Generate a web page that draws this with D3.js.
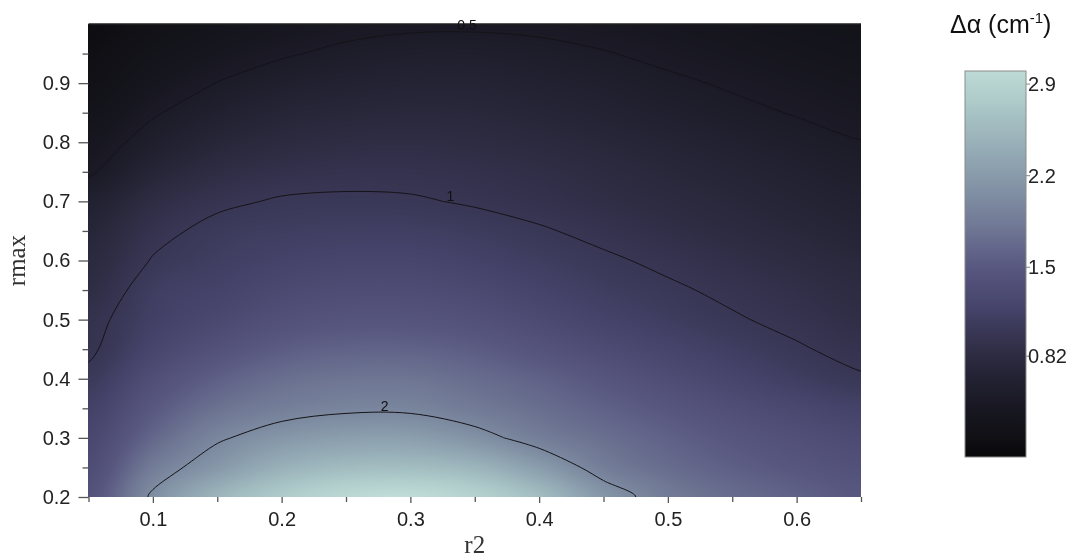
<!DOCTYPE html>
<html>
<head>
<meta charset="utf-8">
<script src="https://cdn.jsdelivr.net/npm/d3@7"></script>
<style>
  html, body { margin: 0; padding: 0; background: #ffffff; }
  #wrap { position: relative; width: 1074px; height: 558px; overflow: hidden; }
  #wrap canvas, #wrap svg { position: absolute; left: 0; top: 0; }
</style>
</head>
<body>
<div id="wrap"></div>
<script>
// ---- data: Δα (cm^-1) sampled on an r2 × rmax grid ----
const r2Values = [0.05, 0.10, 0.15, 0.20, 0.25, 0.30, 0.35, 0.40, 0.45, 0.50, 0.55, 0.60, 0.65];
const rmaxValues = [0.20, 0.25, 0.30, 0.35, 0.40, 0.45, 0.50, 0.55, 0.60, 0.65, 0.70, 0.75, 0.80, 0.85, 0.90, 0.95, 1.00];
// one row per rmax value (bottom to top), one column per r2 value
const deltaAlpha = [
  [1.42, 2.05, 2.50, 2.78, 2.97, 3.02, 2.88, 2.60, 2.15, 1.85, 1.70, 1.60, 1.50],
  [1.33, 1.85, 2.17, 2.45, 2.58, 2.60, 2.50, 2.22, 1.88, 1.70, 1.58, 1.48, 1.40],
  [1.25, 1.65, 1.96, 2.15, 2.24, 2.24, 2.10, 1.88, 1.73, 1.60, 1.48, 1.38, 1.30],
  [1.16, 1.50, 1.75, 1.88, 1.95, 1.95, 1.84, 1.72, 1.60, 1.48, 1.36, 1.26, 1.17],
  [1.05, 1.36, 1.58, 1.72, 1.78, 1.78, 1.70, 1.60, 1.47, 1.34, 1.22, 1.11, 1.02],
  [0.96, 1.22, 1.41, 1.55, 1.61, 1.61, 1.55, 1.44, 1.32, 1.21, 1.11, 1.02, 0.94],
  [0.93, 1.14, 1.27, 1.39, 1.45, 1.45, 1.40, 1.30, 1.19, 1.10, 1.02, 0.95, 0.87],
  [0.85, 1.10, 1.18, 1.28, 1.33, 1.33, 1.28, 1.19, 1.10, 1.03, 0.96, 0.89, 0.82],
  [0.79, 1.013, 1.11, 1.18, 1.22, 1.22, 1.17, 1.10, 1.03, 0.96, 0.89, 0.82, 0.76],
  [0.72, 0.94, 1.06, 1.10, 1.12, 1.12, 1.08, 1.02, 0.95, 0.88, 0.81, 0.75, 0.69],
  [0.62, 0.84, 0.96, 1.02, 1.03, 1.02, 0.98, 0.93, 0.87, 0.81, 0.75, 0.69, 0.63],
  [0.47, 0.70, 0.84, 0.91, 0.94, 0.94, 0.91, 0.87, 0.81, 0.75, 0.69, 0.63, 0.57],
  [0.39, 0.58, 0.72, 0.80, 0.84, 0.85, 0.83, 0.79, 0.74, 0.68, 0.62, 0.56, 0.505],
  [0.30, 0.48, 0.61, 0.70, 0.74, 0.76, 0.75, 0.71, 0.66, 0.60, 0.54, 0.49, 0.44],
  [0.23, 0.38, 0.505, 0.59, 0.64, 0.67, 0.67, 0.63, 0.59, 0.53, 0.48, 0.43, 0.38],
  [0.18, 0.30, 0.40, 0.48, 0.54, 0.58, 0.58, 0.55, 0.51, 0.46, 0.41, 0.36, 0.32],
  [0.14, 0.23, 0.32, 0.39, 0.44, 0.465, 0.47, 0.46, 0.43, 0.39, 0.35, 0.30, 0.27]
];
const contourLevels = [0.5, 1, 2];
const xTickValues = [0.1, 0.2, 0.3, 0.4, 0.5, 0.6];
const xMinorTickValues = [0.05, 0.15, 0.25, 0.35, 0.45, 0.55, 0.65];
const yTickValues = [0.2, 0.3, 0.4, 0.5, 0.6, 0.7, 0.8, 0.9];
const yMinorTickValues = [0.25, 0.35, 0.45, 0.55, 0.65, 0.75, 0.85, 0.95];
const colorbarTickValues = [0.82, 1.5, 2.2, 2.9];

// ---- palette: dark → violet → grey-blue → pale cyan ----
const paletteValues = [0, 0.2, 0.5, 0.8, 1.0, 1.2, 1.5, 1.8, 2.1, 2.4, 2.7, 3.0, 3.1];
const paletteColors = ["#060608", "#101015", "#1b1a26", "#2b2a3f", "#383654", "#46446b",
                       "#585780", "#6f7794", "#8292a5", "#95acb6", "#a9c5c6", "#bedad6", "#c8e3de"];

// ---- layout ----
const W = 1074, H = 558;
const plot = { left: 88.5, right: 861, top: 24, bottom: 497 };
const fontSans = "'Liberation Sans', Arial, sans-serif";
const fontSerif = "'Liberation Serif', 'Times New Roman', serif";

const x = d3.scaleLinear().domain([r2Values[0], r2Values[r2Values.length - 1]]).range([plot.left, plot.right]);
const y = d3.scaleLinear().domain([rmaxValues[0], rmaxValues[rmaxValues.length - 1]]).range([plot.bottom, plot.top]);
const color = d3.scaleLinear().domain(paletteValues).range(paletteColors)
  .interpolate(d3.interpolateRgb).clamp(true);

const wrap = d3.select("#wrap");

// ---- shaded field (canvas) ----
const canvas = wrap.append("canvas").attr("width", W).attr("height", H).node();
const ctx = canvas.getContext("2d");

const nx = r2Values.length, ny = rmaxValues.length;
// grid index ↔ data value scales
const gi = d3.scaleLinear().domain([r2Values[0], r2Values[nx - 1]]).range([0, nx - 1]);
const gj = d3.scaleLinear().domain([rmaxValues[0], rmaxValues[ny - 1]]).range([0, ny - 1]);

function cubic(p0, p1, p2, p3, t) {
  return 0.5 * (2 * p1 + (-p0 + p2) * t + (2 * p0 - 5 * p1 + 4 * p2 - p3) * t * t +
    (-p0 + 3 * p1 - 3 * p2 + p3) * t * t * t);
}
function at(i, j) {
  i = Math.max(0, Math.min(nx - 1, i));
  j = Math.max(0, Math.min(ny - 1, j));
  return deltaAlpha[j][i];
}
function sample(fi, fj) {
  const i = Math.min(Math.floor(fi), nx - 2), j = Math.min(Math.floor(fj), ny - 2);
  const ti = fi - i, tj = fj - j;
  const rows = [];
  for (let k = -1; k <= 2; k++) {
    rows.push(cubic(at(i - 1, j + k), at(i, j + k), at(i + 1, j + k), at(i + 2, j + k), ti));
  }
  return cubic(rows[0], rows[1], rows[2], rows[3], tj);
}

// colour lookup table
const lutN = 1024, lutMax = 3.2;
const lut = new Uint8ClampedArray(lutN * 3);
for (let k = 0; k < lutN; k++) {
  const c = d3.color(color(k / (lutN - 1) * lutMax)).rgb();
  lut[k * 3] = c.r; lut[k * 3 + 1] = c.g; lut[k * 3 + 2] = c.b;
}

const px0 = Math.floor(plot.left), px1 = Math.ceil(plot.right);
const py0 = Math.floor(plot.top), py1 = Math.ceil(plot.bottom);
const img = ctx.createImageData(px1 - px0, py1 - py0);
for (let py = py0; py < py1; py++) {
  const fj = Math.max(0, Math.min(ny - 1, gj(y.invert(py + 0.5))));
  for (let px = px0; px < px1; px++) {
    const fi = Math.max(0, Math.min(nx - 1, gi(x.invert(px + 0.5))));
    const v = sample(fi, fj);
    const k = Math.max(0, Math.min(lutN - 1, Math.round(v / lutMax * (lutN - 1))));
    const o = ((py - py0) * (px1 - px0) + (px - px0)) * 4;
    img.data[o] = lut[k * 3];
    img.data[o + 1] = lut[k * 3 + 1];
    img.data[o + 2] = lut[k * 3 + 2];
    img.data[o + 3] = 255;
  }
}
ctx.putImageData(img, px0, py0);

// ---- vector layer ----
const svg = wrap.append("svg").attr("width", W).attr("height", H);

svg.append("clipPath").attr("id", "plotClip")
  .append("rect")
  .attr("x", plot.left).attr("y", plot.top)
  .attr("width", plot.right - plot.left).attr("height", plot.bottom - plot.top);

// contour lines
const contourGen = d3.contours().size([nx, ny]).thresholds(contourLevels);
const contourSets = contourGen(deltaAlpha.flat());
const cx = d3.scaleLinear().domain([0.5, nx - 0.5]).range([r2Values[0], r2Values[nx - 1]]);
const cy = d3.scaleLinear().domain([0.5, ny - 0.5]).range([rmaxValues[0], rmaxValues[ny - 1]]);
const toPx = p => [x(cx(p[0])), y(cy(p[1]))];

const lineGen = d3.line().curve(d3.curveCatmullRom.alpha(0.5));
const contourG = svg.append("g").attr("clip-path", "url(#plotClip)");
const ringsByLevel = new Map();
contourSets.forEach(c => {
  const rings = [];
  c.coordinates.forEach(poly => poly.forEach(ring => rings.push(ring.map(toPx))));
  ringsByLevel.set(c.value, rings);
  rings.forEach(r => {
    contourG.append("path")
      .attr("d", lineGen(r))
      .attr("fill", "none")
      .attr("stroke", "#141418")
      .attr("stroke-width", 1);
  });
});

// top frame line
svg.append("line")
  .attr("x1", plot.left).attr("x2", plot.right)
  .attr("y1", plot.top).attr("y2", plot.top)
  .attr("stroke", "#222").attr("stroke-width", 1.5);

// contour labels, placed where each line crosses a chosen r2
const labelR2 = new Map([[0.5, 0.344], [1, 0.331], [2, 0.28]]);
contourLevels.forEach(level => {
  const tx = x(labelR2.get(level));
  let best = null;
  (ringsByLevel.get(level) || []).forEach(r => {
    for (let k = 1; k < r.length; k++) {
      const [xa, ya] = r[k - 1], [xb, yb] = r[k];
      if ((xa - tx) * (xb - tx) <= 0 && xa !== xb) {
        const yy = ya + (yb - ya) * (tx - xa) / (xb - xa);
        if (yy >= plot.top && yy <= plot.bottom && (best === null || yy < best)) best = yy;
      }
    }
  });
  if (best !== null) {
    svg.append("text")
      .attr("x", tx).attr("y", best - 2)
      .attr("text-anchor", "middle")
      .attr("font-family", fontSans).attr("font-size", 14)
      .attr("fill", "#111")
      .text(d3.format("~g")(level));
  }
});

// axes
function styleAxis(g) {
  g.select(".domain").remove();
  g.selectAll(".tick line").attr("stroke", "#555").attr("stroke-width", 1.3);
  g.selectAll(".tick text").attr("font-family", fontSans).attr("font-size", 20).attr("fill", "#222");
}
svg.append("g").attr("transform", `translate(0,${plot.bottom})`)
  .call(d3.axisBottom(x).tickValues(xTickValues).tickSize(6).tickPadding(9).tickFormat(d3.format(".1f")))
  .call(styleAxis);
svg.append("g").attr("transform", `translate(0,${plot.bottom})`)
  .call(d3.axisBottom(x).tickValues(xMinorTickValues).tickSize(5).tickFormat(""))
  .call(styleAxis);
svg.append("g").attr("transform", `translate(${plot.left},0)`)
  .call(d3.axisLeft(y).tickValues(yTickValues).tickSize(10).tickPadding(8).tickFormat(d3.format(".1f")))
  .call(styleAxis);
svg.append("g").attr("transform", `translate(${plot.left},0)`)
  .call(d3.axisLeft(y).tickValues(yMinorTickValues).tickSize(6).tickFormat(""))
  .call(styleAxis);

// axis titles
svg.append("text")
  .attr("x", (plot.left + plot.right) / 2).attr("y", 553)
  .attr("text-anchor", "middle")
  .attr("font-family", fontSerif).attr("font-size", 25).attr("fill", "#333")
  .text("r2");
svg.append("text")
  .attr("transform", `translate(25,${(plot.top + plot.bottom) / 2}) rotate(-90)`)
  .attr("text-anchor", "middle")
  .attr("font-family", fontSerif).attr("font-size", 25).attr("fill", "#333")
  .text("rmax");

// ---- colour bar ----
const bar = { x: 965, y: 71, w: 61, h: 386 };
const cb = d3.scaleLinear().domain([0.05, 3.0]).range([bar.y + bar.h, bar.y]);
const grad = svg.append("defs").append("linearGradient")
  .attr("id", "cbGrad").attr("x1", 0).attr("x2", 0).attr("y1", 1).attr("y2", 0);
d3.range(0, 41).forEach(k => {
  const v = cb.domain()[0] + (cb.domain()[1] - cb.domain()[0]) * k / 40;
  grad.append("stop").attr("offset", `${k / 40 * 100}%`).attr("stop-color", color(v));
});
svg.append("rect")
  .attr("x", bar.x).attr("y", bar.y).attr("width", bar.w).attr("height", bar.h)
  .attr("fill", "url(#cbGrad)").attr("stroke", "#8a8a8a").attr("stroke-width", 1);

const cbTicks = svg.append("g");
colorbarTickValues.forEach(v => {
  cbTicks.append("line")
    .attr("x1", bar.x + bar.w).attr("x2", bar.x + bar.w + 4)
    .attr("y1", cb(v)).attr("y2", cb(v))
    .attr("stroke", "#888").attr("stroke-width", 1);
  cbTicks.append("text")
    .attr("x", bar.x + bar.w + 2).attr("y", cb(v))
    .attr("dominant-baseline", "central")
    .attr("font-family", fontSans).attr("font-size", 20).attr("fill", "#222")
    .text(d3.format("~g")(v));
});

const title = svg.append("text")
  .attr("x", 950).attr("y", 33)
  .attr("font-family", fontSans).attr("font-size", 25).attr("fill", "#111");
title.append("tspan").text("Δα (cm");
title.append("tspan").attr("font-size", 15).attr("dy", -10).text("-1");
title.append("tspan").attr("dy", 10).text(")");
</script>
</body>
</html>
